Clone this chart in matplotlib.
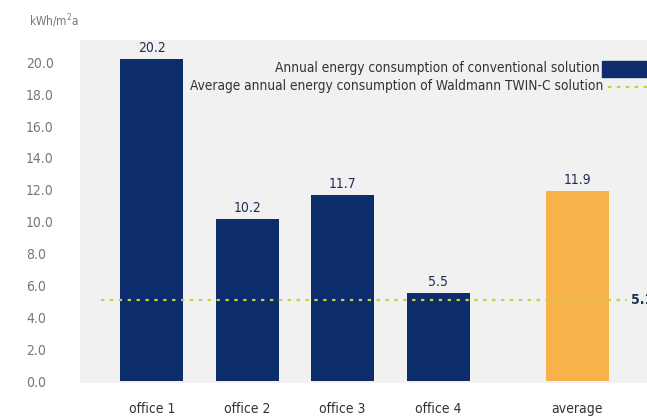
import matplotlib.pyplot as plt
from matplotlib.patches import Rectangle

plt.rcParams['font.family'] = ['DejaVu Sans']
plt.rcParams['font.stretch'] = 'condensed'

categories = ["office 1", "office 2", "office 3", "office 4", "average"]
positions = [0, 1, 2, 3, 4.46]
values = [20.2, 10.2, 11.7, 5.5, 11.9]
bar_colors = ["#0d2c6c", "#0d2c6c", "#0d2c6c", "#0d2c6c", "#f8b24c"]
twin_c_avg = 5.1
yticks = [0, 2, 4, 6, 8, 10, 12, 14, 16, 18, 20]

fig = plt.figure(figsize=(6.47, 4.17), dpi=100)
ax = fig.add_axes([0.124, 0.0815, 0.876, 0.8225])
ax.set_facecolor("#f1f1f1")

ax.bar(positions, values, width=0.66, color=bar_colors, zorder=2)
for x, v in zip(positions, values):
    ax.text(x, v + 0.25, f"{v:.1f}", ha="center", va="bottom", fontsize=10, color="#1f2f55")

ax.plot([-0.53, 4.98], [twin_c_avg, twin_c_avg], color="#c3d23c", lw=1.6,
        linestyle=(0, (1.5, 2.5)), zorder=3)
ax.text(5.02, twin_c_avg, f"{twin_c_avg:.1f}", ha="left", va="center", fontsize=10,
        fontweight="bold", color="#1f2f55")

ax.set_xlim(-0.75, 5.19)
ax.set_ylim(-0.12, 21.4)
ax.set_xticks(positions)
ax.set_xticklabels(categories, fontsize=10, color="#333333")
ax.set_yticks(yticks)
ax.set_yticklabels([f"{t:.1f}" for t in yticks], fontsize=10, color="#777777")
ax.tick_params(length=0)
ax.tick_params(axis="x", pad=14)
ax.tick_params(axis="y", pad=39)
for lab in ax.get_yticklabels():
    lab.set_horizontalalignment("left")
for s in ax.spines.values():
    s.set_visible(False)

# legend-like labels in upper right
ax.text(4.7, 19.65, "Annual energy consumption of conventional solution", ha="right", va="center",
        fontsize=9.8, color="#333333")
ax.add_patch(Rectangle((4.72, 19.1), 0.6, 1.0, color="#0d2c6c", clip_on=True, zorder=3))
ax.text(4.73, 18.5, "Average annual energy consumption of Waldmann TWIN-C solution", ha="right",
        va="center", fontsize=9.8, color="#333333")
ax.plot([4.78, 5.3], [18.45, 18.45], color="#c3d23c", lw=1.6, linestyle=(0, (1.5, 2.5)))

fig.text(0.045, 0.95, "kWh/m$^2$a", fontsize=8.5, color="#777777", ha="left", va="center")

fig.savefig("out.png", dpi=100)
